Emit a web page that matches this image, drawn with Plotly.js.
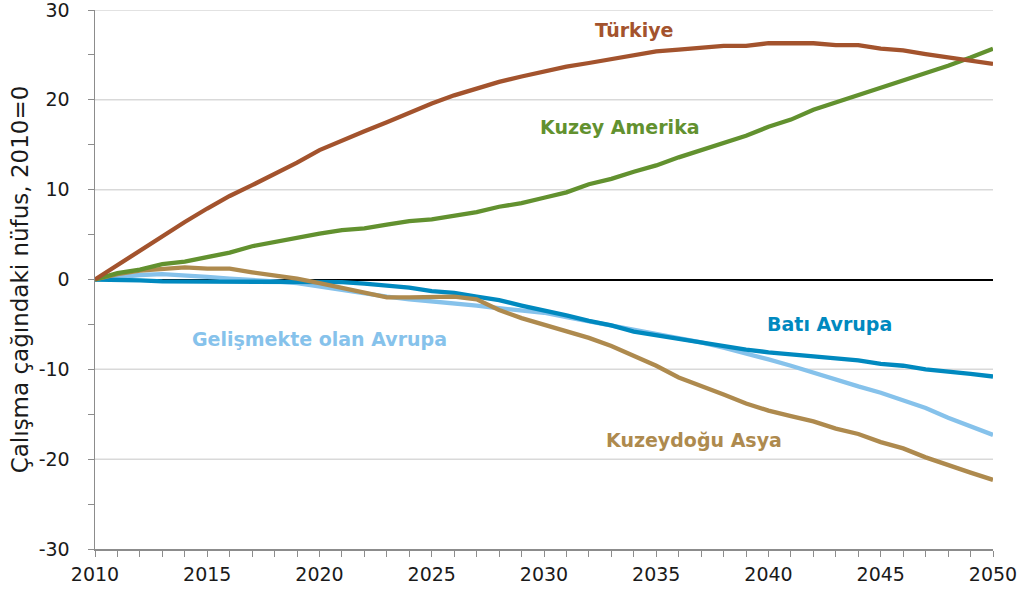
<!DOCTYPE html>
<html>
<head>
<meta charset="utf-8">
<script src="https://cdn.plot.ly/plotly-3.0.1.min.js"></script>
<style>html,body{margin:0;padding:0;background:#fff;}#chart{width:1024px;height:590px;}</style>
</head>
<body>
<div id="chart"></div>
<script>
const years = [];
for (let y = 2010; y <= 2050; y++) years.push(y);

const turkiye = [0, 1.6, 3.3, 4.9, 6.4, 7.9, 9.3, 10.5, 11.7, 13.0, 14.4, 15.5, 16.5, 17.5, 18.6, 19.6, 20.5, 21.3, 22.0, 22.6, 23.2,
  23.7, 24.1, 24.5, 24.9, 25.4, 25.6, 25.8, 26.0, 26.0, 26.3, 26.3, 26.3, 26.1, 26.1, 25.7, 25.5, 25.1, 24.7, 24.3, 24.0];
const kuzeyAmerika = [0, 0.7, 1.1, 1.7, 2.0, 2.5, 3.0, 3.7, 4.2, 4.6, 5.1, 5.5, 5.7, 6.1, 6.5, 6.7, 7.1, 7.5, 8.1, 8.5, 9.1,
  9.7, 10.6, 11.2, 12.0, 12.7, 13.6, 14.4, 15.2, 16.0, 17.0, 17.8, 18.9, 19.7, 20.5, 21.3, 22.1, 22.9, 23.8, 24.7, 25.7];
const kuzeydoguAsya = [0, 0.6, 1.0, 1.2, 1.35, 1.2, 1.2, 0.8, 0.45, 0.1, -0.4, -0.9, -1.4, -2.0, -2.0, -2.0, -1.9, -2.2, -3.4, -4.3, -5.0,
  -5.7, -6.5, -7.4, -8.5, -9.6, -10.9, -11.8, -12.8, -13.8, -14.6, -15.2, -15.8, -16.6, -17.2, -18.1, -18.8, -19.8, -20.7, -21.5, -22.3];
const batiAvrupa = [0, 0.0, -0.1, -0.2, -0.2, -0.2, -0.2, -0.2, -0.2, -0.2, -0.2, -0.3, -0.45, -0.7, -0.9, -1.3, -1.5, -1.9, -2.3, -2.9, -3.4,
  -4.0, -4.6, -5.1, -5.8, -6.2, -6.7, -7.0, -7.4, -7.8, -8.1, -8.3, -8.5, -8.8, -9.0, -9.4, -9.6, -10.0, -10.2, -10.5, -10.8];
const gelismekteAvrupa = [0, 0.3, 0.5, 0.6, 0.5, 0.3, 0.1, 0.0, -0.2, -0.4, -0.8, -1.1, -1.5, -1.9, -2.2, -2.4, -2.7, -2.9, -3.2, -3.4, -3.7,
  -4.2, -4.65, -5.1, -5.6, -6.0, -6.5, -7.0, -7.6, -8.2, -8.9, -9.6, -10.4, -11.2, -11.9, -12.6, -13.4, -14.3, -15.4, -16.4, -17.3];

const seriesNames = ['Türkiye', 'Kuzey Amerika', 'Kuzeydoğu Asya', 'Batı Avrupa', 'Gelişmekte olan Avrupa'];
const seriesData = [turkiye, kuzeyAmerika, kuzeydoguAsya, batiAvrupa, gelismekteAvrupa];
const colors = ['#A3532D', '#62912F', '#AE8A4E', '#0089BF', '#86C2EB'];
const drawOrder = [4, 3, 2, 1, 0];

const yTickVals = [-30, -25, -20, -15, -10, -5, 0, 5, 10, 15, 20, 25, 30];
const yTickText = ['-30', '', '-20', '', '-10', '', '0', '', '10', '', '20', '', '30'];
const xTickVals = [2010, 2015, 2020, 2025, 2030, 2035, 2040, 2045, 2050];
const xTickText = ['2010', '2015', '2020', '2025', '2030', '2035', '2040', '2045', '2050'];
const gridVals = [-20, -10, 10, 20, 30];

const labelX = [2034.0, 2033.4, 2036.7, 2042.7, 2020.0];
const labelY = [27.8, 17.0, -17.9, -5.0, -6.6];

const traces = drawOrder.map(i => ({
  x: years, y: seriesData[i], type: 'scatter', mode: 'lines', name: seriesNames[i],
  line: {color: colors[i], width: 4.3}, hoverinfo: 'skip'
}));

const annotations = seriesNames.map((n, i) => ({
  x: labelX[i], y: labelY[i], xref: 'x', yref: 'y', text: '<b>' + n + '</b>', showarrow: false,
  font: {family: '"DejaVu Sans", sans-serif', size: 19, color: colors[i]}
}));

const shapes = gridVals.map(v => ({
  type: 'line', xref: 'paper', yref: 'y', x0: 0, x1: 1, y0: v, y1: v,
  line: {color: '#d9d9d9', width: 1.5}, layer: 'below'
}));

const tickFont = {family: '"DejaVu Sans", sans-serif', size: 19, color: '#1a1a1a'};

const layout = {
  width: 1024, height: 590,
  margin: {l: 95, r: 31, t: 10, b: 41, autoexpand: false},
  paper_bgcolor: '#fff', plot_bgcolor: '#fff',
  showlegend: false,
  xaxis: {
    range: [2010, 2050], tickmode: 'array', tickvals: xTickVals, ticktext: xTickText,
    ticks: 'outside', ticklen: 6, tickcolor: '#8c8c8c', tickwidth: 1,
    minor: {dtick: 1, tick0: 2010, ticks: 'outside', ticklen: 6, tickcolor: '#8c8c8c', showgrid: false},
    showgrid: false, zeroline: false,
    showline: true, linecolor: '#8c8c8c', linewidth: 1.5,
    tickfont: tickFont, ticklabelstandoff: 2, ticklabeloverflow: 'allow'
  },
  yaxis: {
    range: [-30, 30], tickmode: 'array', tickvals: yTickVals, ticktext: yTickText,
    ticks: 'outside', ticklen: 6, tickcolor: '#8c8c8c',
    showgrid: false,
    zeroline: true, zerolinecolor: '#000', zerolinewidth: 2,
    showline: true, linecolor: '#8c8c8c', linewidth: 1.5,
    tickfont: tickFont, ticklabelstandoff: 14, ticklabeloverflow: 'allow',
    title: {text: 'Çalışma çağındaki nüfus, 2010=0', font: {family: '"DejaVu Sans", sans-serif', size: 23, color: '#1a1a1a'}, standoff: 3}
  },
  shapes: shapes,
  annotations: annotations
};

Plotly.newPlot('chart', traces, layout, {displayModeBar: false, staticPlot: true});
</script>
</body>
</html>
